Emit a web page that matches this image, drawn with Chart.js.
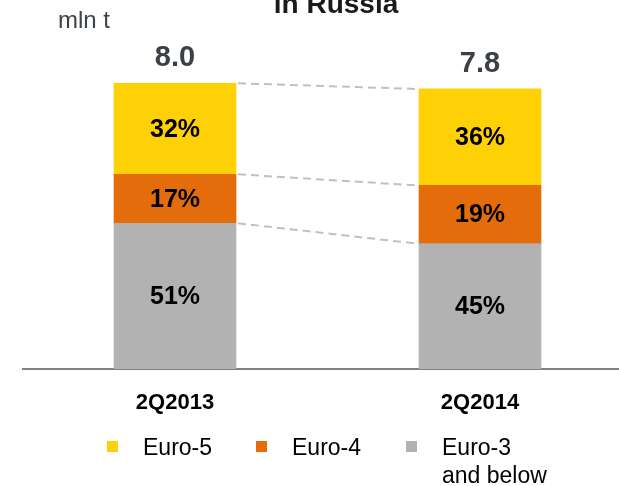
<!DOCTYPE html>
<html>
<head>
<meta charset="utf-8">
<script src="https://cdn.jsdelivr.net/npm/chart.js@4/dist/chart.umd.min.js"></script>
<style>
  html, body { margin: 0; padding: 0; background: #fff; overflow: hidden; }
  /* a bit wider than the window: the axis runs off the right edge */
  #wrap { width: 633px; height: 486px; position: relative; }
</style>
</head>
<body>
<div id="wrap"><canvas id="fuelChart"></canvas></div>
<script>
// values in mln t
const categories = ["2Q2013", "2Q2014"];
const euro5 = [2.55, 2.7];
const euro4 = [1.37, 1.63];
const euro3 = [4.08, 3.51];

const euro5Pct = ["32%", "36%"];
const euro4Pct = ["17%", "19%"];
const euro3Pct = ["51%", "45%"];
const totalLabels = ["8.0", "7.8"];

const legendLabels = [["Euro-3", "and below"], ["Euro-4"], ["Euro-5"]];

const FONT = "'Liberation Sans', Arial, sans-serif";

// percentages inside the segments, totals on top, dashed connectors
const barLabels = {
  id: "barLabels",
  afterDatasetsDraw(chart) {
    const ctx = chart.ctx;
    const pcts = [euro3Pct, euro4Pct, euro5Pct];
    const metas = chart.data.datasets.map((d, i) => chart.getDatasetMeta(i));

    // dashed lines between the bars
    ctx.save();
    ctx.strokeStyle = "#c0c0c0";
    ctx.lineWidth = 2;
    ctx.setLineDash([8, 5]);
    const a = metas.map((m) => m.data[0]);
    const b = metas.map((m) => m.data[1]);
    const edges = [
      [a[2].y, b[2].y],
      [a[1].y, b[1].y],
      [a[0].y, b[0].y],
    ];
    edges.forEach(([y1, y2]) => {
      ctx.beginPath();
      ctx.moveTo(a[0].x + a[0].width / 2 + 2, y1);
      ctx.lineTo(b[0].x - b[0].width / 2 - 2, y2);
      ctx.stroke();
    });
    ctx.restore();

    ctx.save();
    ctx.textAlign = "center";
    ctx.textBaseline = "middle";
    ctx.fillStyle = "#000";
    ctx.font = "bold 25px " + FONT;
    metas.forEach((meta, di) => {
      meta.data.forEach((bar, i) => {
        ctx.fillText(pcts[di][i], bar.x, (bar.y + bar.base) / 2 + 1);
      });
    });

    ctx.fillStyle = "#3a4045";
    ctx.font = "bold 29px " + FONT;
    metas[2].data.forEach((bar, i) => {
      ctx.fillText(totalLabels[i], bar.x, bar.y - 25);
    });
    ctx.restore();
  },
};

// unit, clipped title, and legend below the axis
const extras = {
  id: "extras",
  afterDraw(chart) {
    const ctx = chart.ctx;
    ctx.save();
    ctx.textBaseline = "alphabetic";
    ctx.fillStyle = "#3c4247";
    ctx.font = "24px " + FONT;
    ctx.textAlign = "left";
    ctx.fillText("mln t", 58, 28);

    ctx.fillStyle = "#1a1a1a";
    ctx.font = "bold 28px " + FONT;
    ctx.textAlign = "center";
    ctx.fillText("in Russia", 336, 13);

    ctx.font = "23px " + FONT;
    ctx.textAlign = "left";
    const ds = chart.data.datasets;
    const boxX = [107, 256, 406];
    [2, 1, 0].forEach((di, k) => {
      ctx.fillStyle = ds[di].backgroundColor;
      ctx.fillRect(boxX[k], 441, 11, 11);
      ctx.fillStyle = "#000";
      legendLabels[di].forEach((line, j) => {
        ctx.fillText(line, boxX[k] + 36, 455 + j * 28);
      });
    });
    ctx.restore();
  },
};

const ctx = document.getElementById("fuelChart");

new Chart(ctx, {
  type: "bar",
  data: {
    labels: categories,
    datasets: [
      { label: "Euro-3 and below", data: euro3, backgroundColor: "#b2b2b2" },
      { label: "Euro-4", data: euro4, backgroundColor: "#e46c0a" },
      { label: "Euro-5", data: euro5, backgroundColor: "#fdd106" },
    ],
  },
  options: {
    responsive: true,
    maintainAspectRatio: false,
    devicePixelRatio: 1,
    animation: false,
    layout: {
      padding: { left: 22.5, right: 0.5, top: 0, bottom: 0 },
    },
    datasets: {
      bar: { barThickness: 122, borderWidth: 0 },
    },
    scales: {
      x: {
        stacked: true,
        grid: { display: false, drawTicks: false },
        border: { display: true, color: "#808080", width: 2 },
        ticks: {
          color: "#000",
          padding: 21,
          font: { family: FONT, size: 22, weight: "bold" },
        },
        afterFit(scale) {
          scale.height = 117;
        },
      },
      y: {
        stacked: true,
        display: false,
        min: 0,
        max: 10.33,
      },
    },
    plugins: {
      legend: { display: false },
      tooltip: { enabled: false },
    },
  },
  plugins: [barLabels, extras],
});
</script>
</body>
</html>
